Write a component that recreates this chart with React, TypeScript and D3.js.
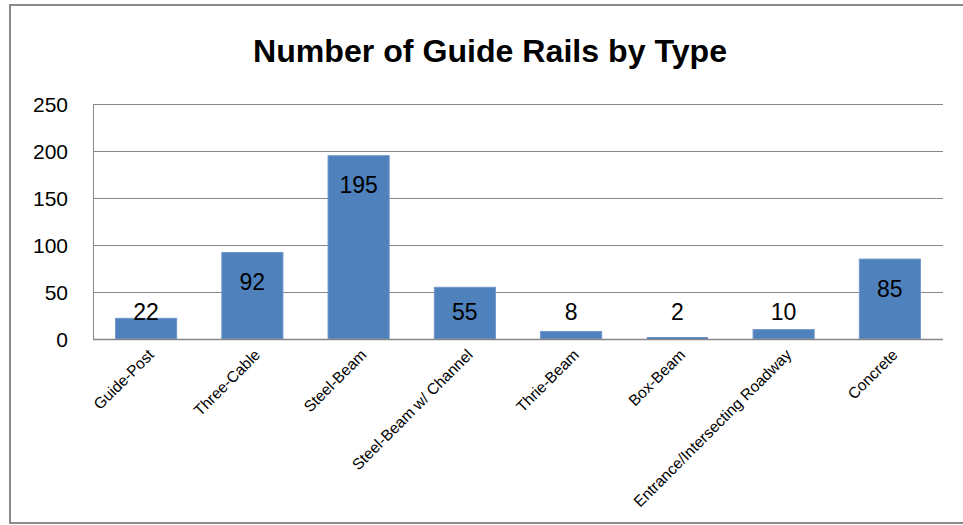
import React from "react";
import * as d3 from "d3";

const categories = [
  "Guide-Post",
  "Three-Cable",
  "Steel-Beam",
  "Steel-Beam w/ Channel",
  "Thrie-Beam",
  "Box-Beam",
  "Entrance/Intersecting Roadway",
  "Concrete",
];
const values = [22, 92, 195, 55, 8, 2, 10, 85];
const yTicks = [0, 50, 100, 150, 200, 250];
const title = "Number of Guide Rails by Type";

const W = 963;
const H = 525;
const plot = { left: 93, right: 943, top: 104, bottom: 339 };
const FONT = "'Liberation Sans', Arial, sans-serif";

export default function App() {
  const x = d3
    .scaleBand<string>()
    .domain(categories)
    .range([plot.left, plot.right])
    .paddingInner(0.425)
    .paddingOuter(0.2125);
  const y = d3.scaleLinear().domain([0, 250]).range([plot.bottom, plot.top]);

  return (
    <svg
      width={W}
      height={H}
      style={{ position: "absolute", left: 0, top: 0, background: "#fff" }}
      fontFamily={FONT}
    >
      <rect x={10} y={5} width={970} height={518} fill="#fff" stroke="#8a8a8a" strokeWidth={2} />
      <text
        x={490}
        y={62}
        textAnchor="middle"
        fontSize={31}
        fontWeight="bold"
        fill="#000"
        textLength={474}
        lengthAdjust="spacingAndGlyphs"
      >
        {title}
      </text>
      {yTicks.map((t) => (
        <g key={t}>
          <line
            x1={plot.left}
            x2={plot.right}
            y1={Math.round(y(t)) + 0.5}
            y2={Math.round(y(t)) + 0.5}
            stroke="#878787"
            strokeWidth={1}
          />
          <text
            x={68}
            y={y(t)}
            dy="0.36em"
            textAnchor="end"
            fontSize={21}
            fill="#000"
          >
            {t}
          </text>
        </g>
      ))}
      {categories.map((c, i) => {
        const v = values[i];
        const bx = x(c)!;
        const bw = x.bandwidth();
        const top = y(v);
        return (
          <rect
            key={c}
            x={bx}
            y={top}
            width={bw}
            height={plot.bottom - top}
            fill="#4F81BD"
            stroke={v > 5 ? "#6E97C8" : "none"}
            strokeWidth={1}
          />
        );
      })}
      <line
        x1={plot.left}
        x2={plot.right}
        y1={Math.round(y(0)) + 0.5}
        y2={Math.round(y(0)) + 0.5}
        stroke="#878787"
        strokeWidth={1.5}
      />
      <line
        x1={plot.left + 0.5}
        x2={plot.left + 0.5}
        y1={plot.top}
        y2={plot.bottom}
        stroke="#878787"
        strokeWidth={1}
      />
      {categories.map((c, i) => {
        const v = values[i];
        const bx = x(c)!;
        const bw = x.bandwidth();
        const top = y(v);
        const cx = bx + bw / 2;
        const ly = Math.min(top + 29.5, 312);
        return (
          <g key={c}>
            <text
              x={cx}
              y={ly}
              dy="0.36em"
              textAnchor="middle"
              fontSize={23}
              fill="#000"
            >
              {v}
            </text>
            <text
              transform={`translate(${cx + 1},${348}) rotate(-45)`}
              dy="0.71em"
              textAnchor="end"
              fontSize={15.5}
              fill="#000"
            >
              {c}
            </text>
          </g>
        );
      })}
    </svg>
  );
}
